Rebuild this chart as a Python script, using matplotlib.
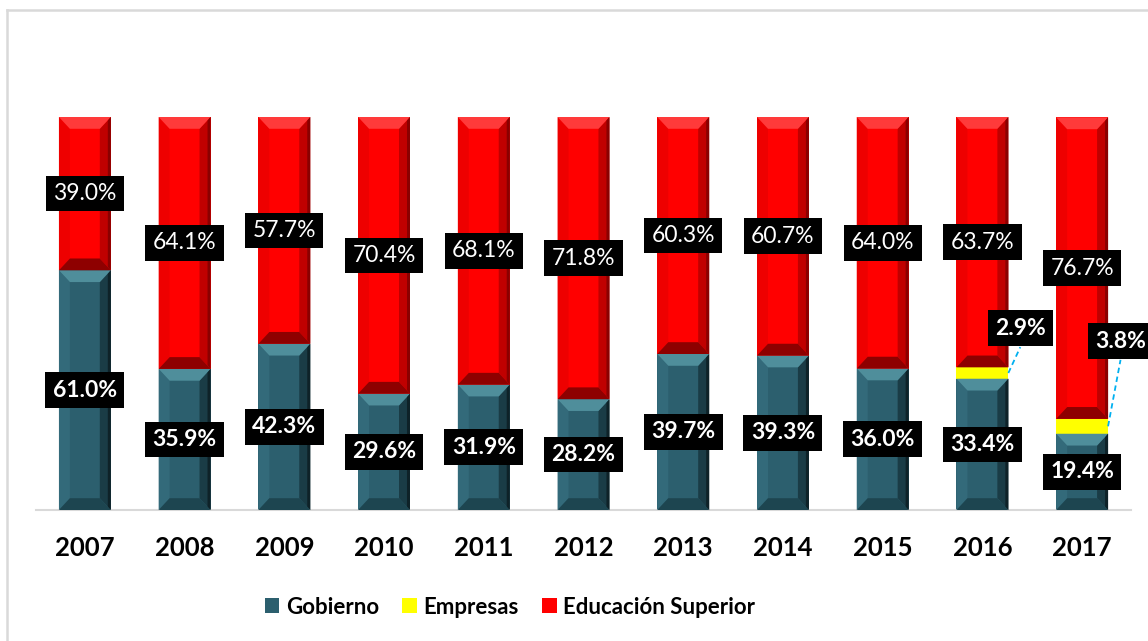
import matplotlib
matplotlib.use("Agg")
import matplotlib.pyplot as plt
from matplotlib.patches import Polygon, Patch
from matplotlib.lines import Line2D
import numpy as np

plt.rcParams['font.family'] = ['Lato', 'DejaVu Sans']

years = ["2007", "2008", "2009", "2010", "2011", "2012", "2013", "2014", "2015", "2016", "2017"]
gobierno = [61.0, 35.9, 42.3, 29.6, 31.9, 28.2, 39.7, 39.3, 36.0, 33.4, 19.4]
empresas = [0, 0, 0, 0, 0, 0, 0, 0, 0, 2.9, 3.8]
educacion = [39.0, 64.1, 57.7, 70.4, 68.1, 71.8, 60.3, 60.7, 64.0, 63.7, 76.7]
series_names = ["Gobierno", "Empresas", "Educación Superior"]

# layout for the callout labels of the small "Empresas" segments (offsets in data units)
emp_label_offsets = {9: (0.38, 11.4), 10: (0.385, 21.7)}

W, H = 1148, 641
fig = plt.figure(figsize=(W / 100, H / 100), dpi=100)
ax = fig.add_axes([36 / W, (H - 510) / H, 1095 / W, 393 / H])

x = np.arange(len(years))
bw = 0.52
gob = np.array(gobierno)
emp = np.array(empresas)
edu = np.array(educacion)

col_gob = "#2C5F6E"
col_emp = "#FFFF00"
col_edu = "#FF0000"

bars_g = ax.bar(x, gob, bw, color=col_gob, zorder=2, linewidth=0)
bars_e = ax.bar(x, emp, bw, bottom=gob, color=col_emp, zorder=2, linewidth=0)
bars_r = ax.bar(x, edu, bw, bottom=gob + emp, color=col_edu, zorder=2, linewidth=0)

ax.set_xlim(-0.49, 10.49)
ax.set_ylim(0, 100)


def bevel(bar, top, bottom, left, right, edge):
    x0 = bar.get_x()
    x1 = x0 + bar.get_width()
    y0 = bar.get_y()
    y1 = y0 + bar.get_height()
    bx = 0.11
    by = min(3.0, (y1 - y0) / 2)
    polys = [
        ([(x0, y0), (x0, y1), (x0 + bx, y1 - by), (x0 + bx, y0 + by)], left),
        ([(x1, y0), (x1, y1), (x1 - bx, y1 - by), (x1 - bx, y0 + by)], right),
        ([(x0, y1), (x1, y1), (x1 - bx, y1 - by), (x0 + bx, y1 - by)], top),
        ([(x0, y0), (x1, y0), (x1 - bx, y0 + by), (x0 + bx, y0 + by)], bottom),
    ]
    for pts, c in polys:
        ax.add_patch(Polygon(pts, closed=True, facecolor=c, edgecolor='none', zorder=3))
    ax.add_patch(Polygon([(x1 - 0.03, y0 + by * 0.3), (x1, y0), (x1, y1), (x1 - 0.03, y1 - by * 0.3)],
                         closed=True, facecolor=edge, edgecolor='none', zorder=3))


for b in bars_g:
    bevel(b, "#4F8E9B", "#1D4550", "#336A7A", "#1A3C46", "#0E2228")
for b in bars_r:
    bevel(b, "#FF3A3A", "#8E0000", "#EE0000", "#C00000", "#8A0000")

# labels
lab_kw = dict(ha='center', va='center', color='white', fontsize=16.5, zorder=6,
              bbox=dict(boxstyle='square,pad=0.32', fc='black', ec='none'))
for i in range(len(years)):
    ax.text(x[i], gob[i] / 2, f"{gob[i]:.1f}%", fontweight='bold', **lab_kw)
    ax.text(x[i], gob[i] + emp[i] + edu[i] / 2, f"{edu[i]:.1f}%", fontweight='normal', **lab_kw)
    if emp[i] > 0:
        dx, dy = emp_label_offsets[i]
        ymid = gob[i] + emp[i] / 2
        lx, ly = x[i] + dx, ymid + dy
        ax.text(lx, ly, f"{emp[i]:.1f}%", fontweight='bold', clip_on=False, **lab_kw)
        ax.plot([x[i] + bw / 2, lx], [ymid, ly - 4.8], color="#00B0F0", lw=1.3,
                ls=(0, (3, 2)), zorder=5, clip_on=False)

for s in ['top', 'left', 'right']:
    ax.spines[s].set_visible(False)
ax.spines['bottom'].set_color("#D9D9D9")
ax.spines['bottom'].set_linewidth(1.5)
ax.set_yticks([])
ax.set_xticks(x)
ax.set_xticklabels(years, fontsize=18.5, fontweight='bold')
ax.tick_params(axis='x', length=0, pad=19)

handles = [Patch(facecolor=col_gob, edgecolor='none'),
           Patch(facecolor=col_emp, edgecolor='none'),
           Patch(facecolor=col_edu, edgecolor='none')]
leg = fig.legend(handles, series_names, loc='center', ncol=3,
                 bbox_to_anchor=(510 / W, 1 - 607 / H), frameon=False,
                 prop=dict(weight='bold', size=16),
                 handlelength=0.65, handleheight=0.65, handletextpad=0.3,
                 columnspacing=1.05)

# chart frame (left and top edges visible)
fig.add_artist(Line2D([6.5 / W, 6.5 / W], [0, 1 - 10 / H], color="#D9D9D9", lw=1.8))
fig.add_artist(Line2D([6.5 / W, 1], [1 - 10 / H, 1 - 10 / H], color="#D9D9D9", lw=1.8))

fig.savefig("out.png", dpi=100)
